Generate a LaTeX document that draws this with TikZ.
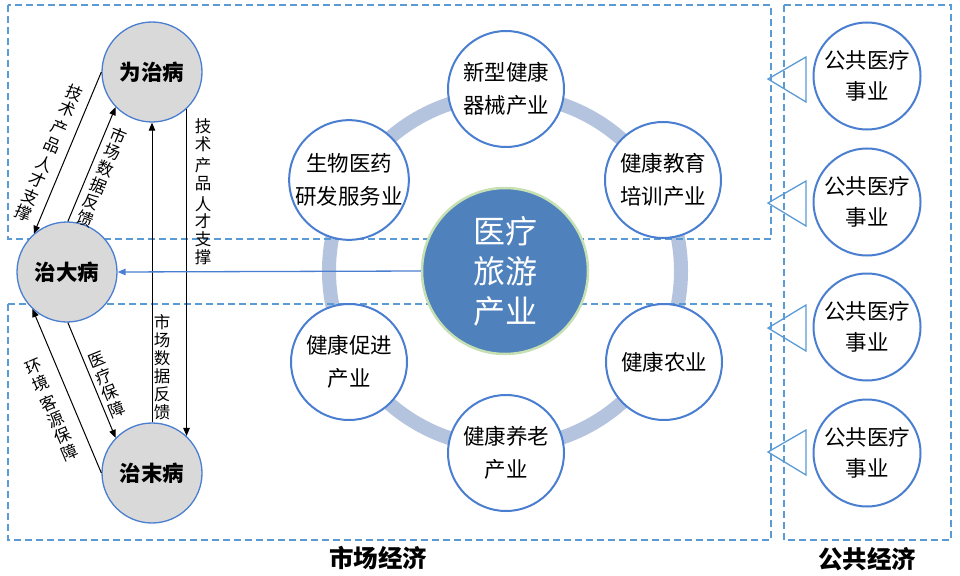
\documentclass[tikz,border=0pt]{standalone}
\usepackage{fontspec}
\newfontfamily\cjk{Noto Sans CJK SC}
\usetikzlibrary{arrows.meta}
\definecolor{cblue}{HTML}{4A7ED0}
\definecolor{dblue}{HTML}{5B9BD5}
\definecolor{ringc}{HTML}{B4C4DF}
\definecolor{cfill}{HTML}{4F81BD}
\definecolor{cgreen}{HTML}{C6E0B4}
\definecolor{gfill}{HTML}{D9D9D9}
\begin{document}
\begin{tikzpicture}[x=1pt,y=-1pt, font=\cjk,
  sat/.style={circle, draw=cblue, line width=2pt, fill=white, minimum size=116pt, inner sep=0pt, align=center, font=\cjk\fontsize{21.5}{33}\selectfont},
  pub/.style={circle, draw=cblue, line width=2pt, fill=white, minimum size=107pt, inner sep=0pt, align=center, font=\cjk\fontsize{21.5}{31}\selectfont},
  zhi/.style={circle, draw=cblue, line width=1.3pt, fill=gfill, minimum size=100pt, inner sep=0pt, font=\cjk\bfseries\fontsize{21.5}{25}\selectfont},
  dbox/.style={draw=dblue, line width=1.3pt, dash pattern=on 7pt off 4pt},
  arr/.style={-{Triangle[length=8pt,width=6.5pt]}, line width=1pt, black},
  lbl/.style={align=center, inner sep=0pt, font=\cjk\fontsize{16.5}{17.8}\selectfont},
  tri/.style={draw=dblue, line width=1.3pt},
  title/.style={font=\cjk\bfseries\fontsize{24.5}{27}\selectfont}
]
\useasboundingbox (0,0) rectangle (960,575);
\fill[white] (0,0) rectangle (960,575);

% ring
\draw[ringc, line width=14pt] (505,271) circle[radius=176pt];

% dashed boxes
\draw[dbox] (8,5) rectangle (771,239);
\draw[dbox] (8,304) rectangle (771,540);
\draw[dbox] (784,5) rectangle (951,540);

% centre
\node[circle, fill=cfill, draw=cgreen, line width=2.5pt, minimum size=166pt, inner sep=0pt, text=white, align=center, font=\cjk\fontsize{32}{40}\selectfont] (ctr) at (505,271) {医疗\\旅游\\产业};

% satellites
\node[sat] (s1) at (506,89) {新型健康\\器械产业};
\node[sat] (s2) at (349,180) {生物医药\\研发服务业};
\node[sat] (s3) at (663,180) {健康教育\\培训产业};
\node[sat] (s4) at (349,362) {健康促进\\产业};
\node[sat] (s5) at (664,362) {健康农业};
\node[sat] (s6) at (506,453) {健康养老\\产业};

% public
\node[pub] (p1) at (867,76) {公共医疗\\事业};
\node[pub] (p2) at (867,202) {公共医疗\\事业};
\node[pub] (p3) at (867,327) {公共医疗\\事业};
\node[pub] (p4) at (867,453) {公共医疗\\事业};

\draw[tri] (806,57) -- (768,79) -- (806,102) -- cycle;
\draw[tri] (806,181) -- (768,203) -- (806,226) -- cycle;
\draw[tri] (806,305) -- (768,328) -- (806,351) -- cycle;
\draw[tri] (806,430) -- (768,452) -- (806,475) -- cycle;

% left circles
\node[zhi] (wz) at (152,72) {为治病};
\node[zhi] (dd) at (67,272) {治大病};
\node[zhi] (mb) at (152,473) {治末病};

% arrows
\draw[arr] (wz.180) -- (dd.131);
\draw[arr] (dd.89) -- (wz.224);
\draw[arr] (mb.90) -- (wz.270);
\draw[arr] (wz.-47) -- (mb.47);
\draw[arr] (dd.-89) -- (mb.136);
\draw[arr] (mb.180) -- (dd.227);
\draw[-{Triangle[length=8pt,width=6.5pt]}, cblue, line width=1.3pt] (ctr.west) -- (dd.east);

% labels
\node[lbl, rotate=-23] (l1) at (49,153) {技\\术\\[3pt]产\\品\\[3pt]人\\才\\支\\撑};
\node[lbl, rotate=-22] (l2) at (102,177) {市\\场\\[1pt]数\\据\\反\\馈};
\node[lbl] (l3) at (203,192) {技\\术\\[3pt]产\\品\\[3pt]人\\才\\支\\撑};
\node[lbl] (l4) at (162,367) {市\\场\\[1pt]数\\据\\反\\馈};
\node[lbl, rotate=22] (l5) at (107,385) {医\\疗\\保\\障};
\node[lbl, rotate=23] (l6) at (52,410) {环\\境\\[4pt]客\\源\\保\\障};

\node[title] (t1) at (378,558) {市场经济};
\node[title] (t2) at (867,559) {公共经济};
\end{tikzpicture}
\end{document}
